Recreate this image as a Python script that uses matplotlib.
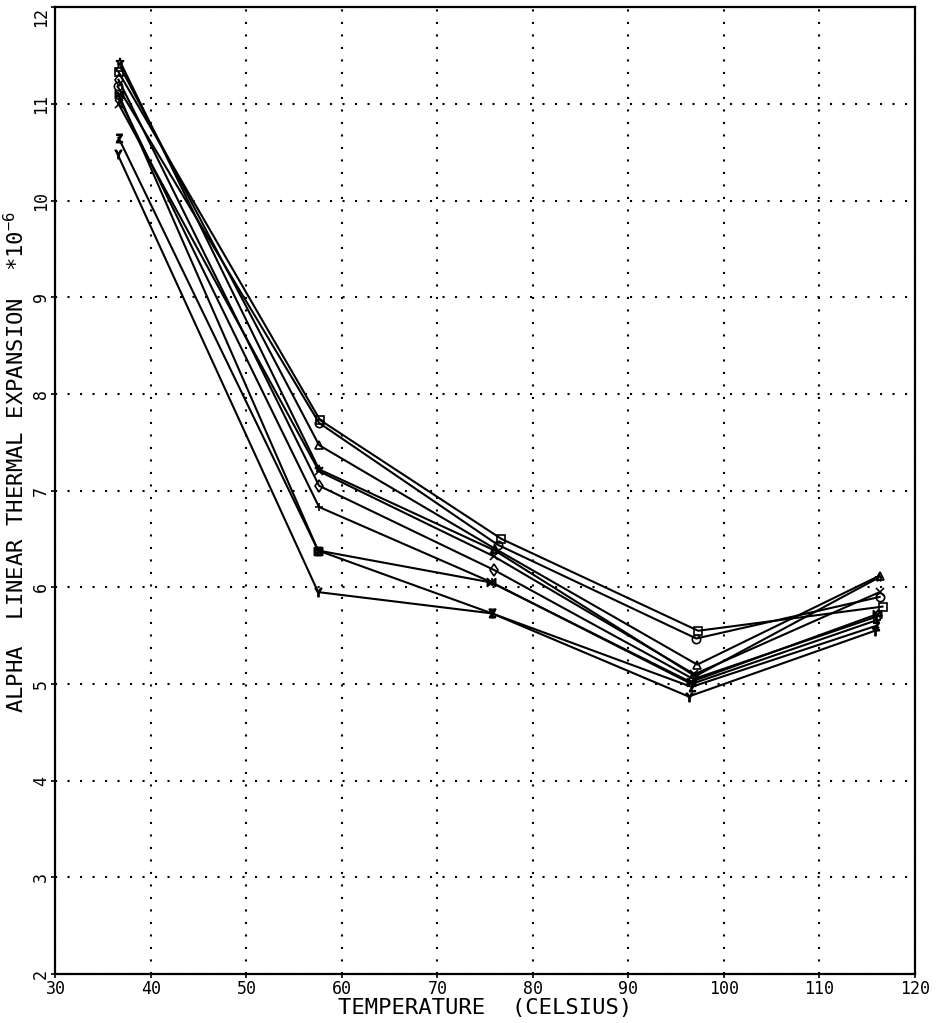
import matplotlib
matplotlib.use("Agg")
import matplotlib.pyplot as plt

plt.rcParams['font.family'] = ['DejaVu Sans Mono']
plt.rcParams['mathtext.fontset'] = 'custom'
plt.rcParams['mathtext.rm'] = 'DejaVu Sans Mono'
plt.rcParams['mathtext.it'] = 'DejaVu Sans Mono'

# x positions (temperature, Celsius) per series
x_square = [36.6, 57.7, 76.7, 97.3, 116.6]
x_circle = [36.5, 57.6, 76.3, 97.1, 116.3]
x_tri = [36.8, 57.6, 76.0, 97.2, 116.3]
x_star = [36.8, 57.6, 76.0, 97.0, 116.2]
x_diam = [36.6, 57.6, 75.9, 96.8, 116.1]
x_plus = [36.7, 57.6, 75.7, 96.6, 116.0]
x_x = [36.6, 57.6, 75.9, 96.9, 116.3]
x_z = [36.6, 57.5, 75.7, 96.6, 115.9]
x_y = [36.5, 57.5, 75.7, 96.3, 115.8]
x_bow = [36.6, 57.5, 75.6, 96.5, 116.0]

# alpha values (x1e-6)
y_square = [11.33, 7.73, 6.50, 5.55, 5.80]
y_circle = [11.18, 7.70, 6.44, 5.47, 5.90]
y_tri = [11.38, 7.47, 6.40, 5.20, 6.12]
y_star = [11.43, 7.22, 6.38, 5.08, 6.10]
y_diam = [11.25, 7.05, 6.18, 5.05, 5.70]
y_plus = [11.05, 6.83, 6.05, 5.00, 5.66]
y_x = [11.00, 7.20, 6.32, 5.10, 5.95]
y_z = [10.65, 6.38, 5.73, 4.97, 5.60]
y_y = [10.48, 5.95, 5.73, 4.87, 5.55]
y_bow = [11.10, 6.38, 6.05, 5.02, 5.72]

series = [
    (x_square, y_square, 's'),
    (x_circle, y_circle, 'o'),
    (x_tri, y_tri, '^'),
    (x_star, y_star, '*'),
    (x_diam, y_diam, 'd'),
    (x_plus, y_plus, '+'),
    (x_x, y_x, 'x'),
    (x_z, y_z, '$Z$'),
    (x_y, y_y, '$Y$'),
    (x_bow, y_bow, '$\u22c8$'),
]

xticks = [30, 40, 50, 60, 70, 80, 90, 100, 110, 120]
yticks = [2, 3, 4, 5, 6, 7, 8, 9, 10, 11, 12]

fig = plt.figure(figsize=(9.37, 10.23), dpi=100)
ax = fig.add_axes([0.0592, 0.0479, 0.9173, 0.9451])

for xs, ys, m in series:
    ax.plot(xs, ys, color='black', linewidth=1.5, marker=m, markersize=6,
            markerfacecolor='none', markeredgecolor='black', markeredgewidth=1.2)

ax.set_xlim(30, 120)
ax.set_ylim(2, 12)
ax.set_xticks(xticks)
ax.set_yticks(yticks)
ax.set_xticklabels([str(t) for t in xticks], fontsize=12)
ax.set_yticklabels([str(t) for t in yticks], fontsize=12, rotation=90, va='center')
ax.get_yticklabels()[-1].set_va('top')
ax.tick_params(axis='both', direction='out', length=3, width=1.2, colors='black', pad=1)
ax.grid(True, color='black', linestyle=(0, (1, 5)), linewidth=1.5)

for s in ax.spines.values():
    s.set_linewidth(1.6)

ax.set_xlabel('TEMPERATURE  (CELSIUS)', fontsize=16, labelpad=0)
ax.set_ylabel(r'ALPHA  LINEAR THERMAL EXPANSION  $*10^{-6}$', fontsize=16)
ax.yaxis.set_label_coords(-0.032, 0.53)

fig.savefig('out.png', dpi=100)
